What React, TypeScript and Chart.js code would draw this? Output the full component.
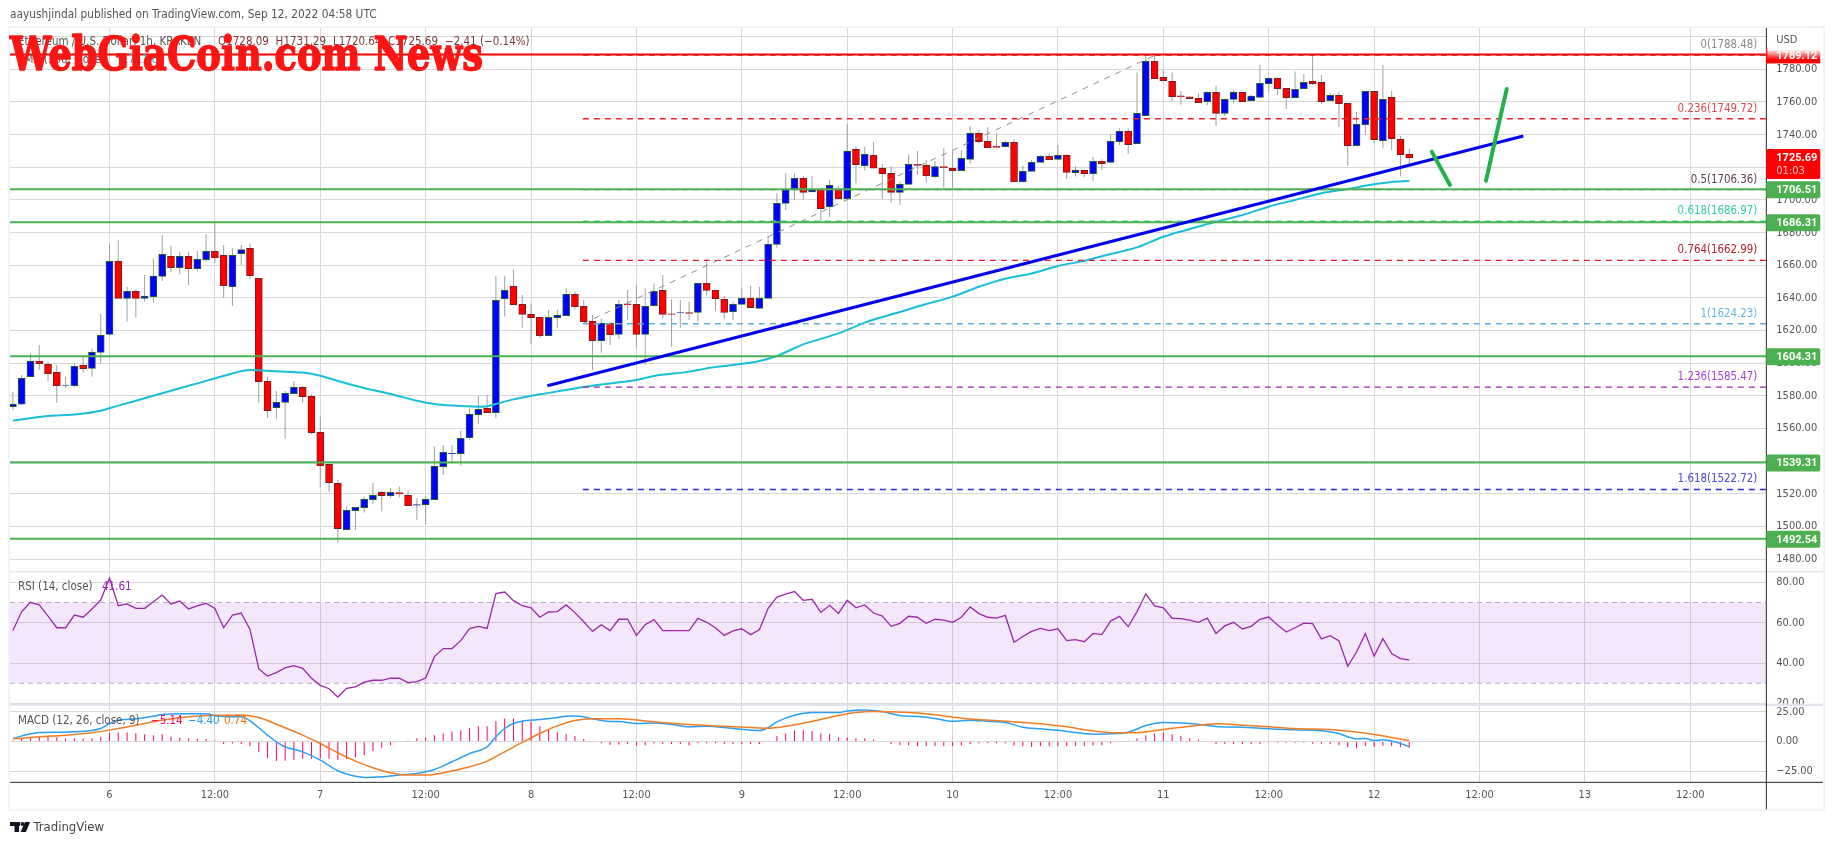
import React, { useEffect, useRef } from "react";
import { Chart, registerables } from "chart.js";

Chart.register(...registerables);

const FONT = '"DejaVu Sans Condensed", "DejaVu Sans", sans-serif';

const firstHour = -11; // Sep 5, 13:00, counted in hours from Sep 6, 00:00

const opens = [
  1573.4,1574.9,1591.8,1601.4,1599.4,1594.5,1586.5,1586.3,1598.8,1596.9,
  1606.7,1617.7,1662.4,1639.8,1644,1639.8,1640.8,1653.2,1665.5,1658.5,
  1665.5,1657.9,1663.4,1668.5,1666.1,1646.9,1667.1,1670.4,1652,1589,
  1572.8,1576.1,1581.4,1585.3,1579.8,1557.7,1538.1,1526.5,1498.1,1509.8,
  1511.6,1516.5,1521,1519,1520.8,1519.2,1513.2,1513.4,1516.5,1536.7,
  1544.7,1544.7,1554.5,1568.6,1572.4,1569.8,1639.6,1647.3,1636.1,1630,
  1628.1,1616.9,1628,1629.2,1642.2,1634.9,1625.7,1613.9,1624.5,1617.7,
  1636.4,1636.1,1617.7,1635.3,1644.7,1630.3,1630.8,1631,1631.2,1649,
  1644.7,1639.2,1631.6,1636.1,1639.8,1633.6,1639.8,1672.8,1697.9,1706.5,
  1713.2,1705,1706.7,1695.9,1706.7,1700.8,1731,1721,1727.3,1719.4,
  1716.3,1704.7,1709.6,1721.9,1721.2,1714.3,1720.4,1719.4,1717.9,1724.9,
  1740.8,1735.9,1732.8,1732.6,1735.3,1711.2,1717.5,1723,1726.7,1724.9,
  1727.3,1716.7,1718.1,1716.1,1723.7,1723,1735.7,1742,1734.5,1751.6,
  1784.9,1775.1,1772.6,1763.8,1763.2,1762.2,1760.2,1765.9,1753,1761.6,
  1765.9,1760.8,1762.8,1771.2,1774.5,1768.3,1762.6,1768.1,1772.8,1772,
  1760.8,1764.1,1759.2,1733.3,1746.1,1766.5,1736.3,1762.8,1737.1,1728.09,
];
const closes = [
  1575,1590.8,1601.2,1599.8,1593.7,1586.3,1586.6,1598.1,1596.7,1606.7,
  1617.1,1662.4,1639.8,1644,1639.8,1641.2,1653.4,1666.7,1658.5,1665.5,
  1657.9,1663.6,1668.5,1664.6,1647.5,1666.1,1669.7,1653.6,1588.8,1571,
  1576.1,1581.6,1585.3,1579.6,1557.5,1537.3,1526.9,1498.8,1510,1511.8,
  1516.7,1519.2,1519,1521,1520,1512.8,1513.5,1516.7,1536.9,1545.5,
  1544.9,1554.1,1568.8,1571.8,1569.8,1638.6,1644.7,1635.9,1630,1628,
  1616.9,1628.1,1629.4,1642.2,1634.7,1625.5,1613.9,1624.5,1617.5,1636.1,
  1635.8,1617.7,1634.9,1644,1630,1630,1631,1630.6,1649,1644.7,
  1639.6,1631.2,1636.1,1639.8,1634,1639.8,1672.8,1697.9,1706.5,1713.2,
  1704.7,1706.7,1694.7,1709,1700.8,1730,1721.6,1727.9,1719.4,1716.1,
  1704.7,1709.6,1721.8,1721.2,1714.9,1720.4,1719.8,1717.9,1725.5,1740.8,
  1735.7,1732,1732.2,1735.3,1711.2,1717.5,1723,1726.7,1724.7,1727.3,
  1716.9,1718.3,1716.1,1723.7,1722.2,1735.9,1742,1733.9,1753,1784.9,
  1774.3,1773,1763.2,1763.2,1762,1759.6,1765.9,1753,1761.6,1765.9,
  1760.2,1763.6,1771.4,1774.5,1768.1,1762.6,1767.7,1772,1771.2,1760.2,
  1764.1,1759,1733.3,1746.3,1766.5,1736.9,1761.6,1737.5,1727.7,1725.69,
];
const highs = [
  1582.6,1592.8,1606.1,1611.2,1601,1599,1591.8,1600,1604,1609,
  1630.2,1673.4,1675.5,1646.9,1645.3,1654,1664.2,1678.5,1671.8,1668.3,
  1668.3,1668.9,1679.1,1686,1672.4,1670.4,1672.4,1673.4,1652,1591.8,
  1583,1583,1589.2,1586.1,1581,1567.3,1538.1,1528.6,1512.6,1512,
  1518.3,1526.9,1522,1523.4,1524.5,1522,1517.3,1518.7,1549,1550,
  1550,1558.8,1572.4,1580,1580.6,1653.4,1653.4,1657.5,1641.8,1636.7,
  1628.1,1632.6,1632.6,1645.9,1643.9,1638.8,1629.6,1627.5,1625.5,1638.8,
  1644.9,1648,1645.9,1649,1654,1639.2,1638.8,1637.7,1649,1663.6,
  1644.7,1641,1637.7,1646.3,1647.3,1646.9,1678,1704,1716.3,1716,
  1714.7,1714.7,1706.7,1712.2,1708.5,1746.5,1732.6,1732.6,1735.3,1722,
  1721,1711.2,1727.9,1730,1724.5,1723.9,1731.6,1730,1730.6,1745.3,
  1742.8,1744.5,1740.8,1736.3,1737.1,1721,1724.5,1727.5,1728.5,1733.6,
  1728,1720.8,1718.1,1726.5,1724.9,1740.4,1743.9,1743.9,1778,1788.5,
  1788.1,1779.6,1778,1766.7,1763.5,1765.3,1766.7,1769.8,1762,1767.3,
  1766.2,1764.3,1782.6,1775,1775,1768.5,1778.6,1777.1,1788.5,1776.5,
  1765.3,1766.3,1759.2,1753.9,1766.5,1766.5,1782.6,1766.7,1739.2,1731.29,
];
const lows = [
  1571.4,1574.5,1591.8,1595.9,1588.8,1575.9,1584.7,1585.3,1594.3,1591.8,
  1600,1617,1639.8,1625.5,1628,1637.7,1637.1,1650.4,1656,1654.6,
  1647.9,1656.7,1662.2,1661.2,1640,1635.3,1660.2,1651.4,1575.9,1566.7,
  1566,1553.9,1581.4,1575.9,1556.7,1523.9,1521.4,1490.2,1498.1,1497.9,
  1508.6,1513.9,1509.2,1517.9,1517.9,1512.8,1504.1,1501,1516.5,1531.6,
  1539.8,1537.3,1553,1562.8,1569.8,1566.7,1628.6,1635.9,1621.8,1611.6,
  1615.7,1616.9,1621.8,1629.2,1633,1625,1595.9,1606.5,1611.2,1614.7,
  1626.5,1609.6,1599,1635,1627.5,1610.2,1621.8,1626.5,1625.5,1641.4,
  1632.2,1627.3,1626.5,1636.1,1634,1633.6,1639.8,1670.8,1693.9,1700,
  1700,1705,1687.3,1689.8,1700.8,1700.8,1710.2,1718,1719.4,1700.6,
  1698.3,1696.9,1709.6,1715.3,1710.6,1713.2,1707.7,1707.7,1717.9,1722.4,
  1734.7,1732,1732,1732.4,1711.2,1710.6,1717.5,1723,1724.5,1724.5,
  1712.8,1714.3,1713.9,1711.8,1718.5,1723,1733.7,1728.1,1734.5,1751.6,
  1773.9,1773,1760.6,1758.3,1762,1759.6,1758,1745.3,1751.4,1759.2,
  1760.2,1760.8,1762.8,1766.3,1764.3,1755.7,1762.6,1768.1,1770.4,1758.8,
  1760.8,1744.9,1721,1733.3,1740.2,1735.1,1732,1730.6,1714.3,1720.64,
];

const rsiValues = [
  56.1,65.5,70.1,68.8,63.3,57.5,57.5,63.8,62.7,66.8,
  71.2,82.0,68.4,69.3,67.1,67.1,70.4,73.7,69.3,70.7,
  66.8,68.3,69.6,67.1,57.5,63.8,64.8,56.7,37.1,33.6,
  35.3,37.6,38.7,37.4,32.5,29.0,27.3,23.2,27.5,28.2,
  30.6,31.5,31.5,32.5,32.5,30.3,30.8,32.6,43.2,47.2,
  47.2,51.1,57.1,58.2,57.2,74.4,75.2,70.9,68.4,67.4,
  62.7,65.3,65.5,68.8,65.0,60.5,55.7,59.0,56.1,61.7,
  61.7,53.7,59.0,61.5,56.1,56.1,56.1,56.1,62.2,60.2,
  57.5,53.7,55.9,57.0,54.1,56.5,67.1,72.7,74.2,75.4,
  71.1,71.6,65.1,68.6,64.6,71.1,67.4,68.8,64.8,63.3,
  58.2,59.7,63.2,62.7,59.7,61.7,61.3,60.2,62.7,67.8,
  64.5,62.7,62.3,63.6,50.3,53.2,55.7,57.2,56.1,57.0,
  51.1,51.6,50.6,54.7,54.1,60.8,63.1,58.0,65.5,74.2,
  68.3,67.4,62.2,62.0,61.3,60.2,62.3,54.7,58.4,60.2,
  56.9,58.2,61.7,62.8,58.9,55.4,57.5,59.8,59.5,52.0,
  53.6,51.0,38.4,45.5,54.6,43.4,52.1,44.7,42.2,41.61,
];

const histValues = [
  0.8,2.2,3.1,4.2,3.9,3.6,2.5,2.8,2.5,2.8,
  3.9,7.3,7.8,7.8,7.0,6.1,5.3,6.1,4.2,3.4,
  2.8,2.2,2.0,0.8,-2.2,-1.7,-2.2,-3.9,-8.9,-14.0,
  -16.5,-16.2,-15.4,-14.8,-14.5,-14.2,-14.5,-15.6,-14.8,-13.1,
  -11.5,-8.1,-5.3,-3.1,-0.3,0.8,2.8,3.4,5.3,7.0,
  8.4,9.5,11.2,12.8,12.8,17.0,19.3,19.3,17.9,16.8,
  12.8,10.1,7.8,6.1,4.5,2.0,0.1,-1.4,-2.8,-2.5,
  -2.2,-3.6,-3.1,-1.7,-2.2,-2.2,-2.2,-3.1,-1.4,-1.4,
  -1.4,-2.2,-2.2,-2.2,-2.2,-2.2,0.8,4.5,6.7,9.2,
  9.5,8.7,7.0,6.1,3.6,3.6,2.8,2.8,1.7,0.1,
  -2.2,-3.1,-3.1,-3.9,-3.9,-3.9,-3.9,-3.9,-3.4,-2.2,
  -1.4,-1.4,-1.4,-1.4,-3.4,-3.9,-4.7,-3.9,-3.9,-3.9,
  -3.9,-3.9,-3.9,-3.4,-3.1,-1.4,-0.3,0.8,2.8,5.3,
  7.0,7.5,6.1,4.5,2.8,1.7,0.1,-2.2,-2.2,-2.2,
  -2.2,-2.2,-2.2,-0.8,-1.1,-1.1,-1.1,-1.1,-2.0,-2.0,
  -2.2,-3.1,-4.7,-5.6,-3.9,-4.5,-3.6,-3.9,-4.7,-5.14,
];

// Smoothed lines read at anchor candles: [candle number, value]
const emaPoints = [
  [0,1564.9],[4,1567.7],[7,1568.6],[10,1571],[12,1574.1],[15,1578.6],[18,1583.2],[21,1587.7],[24,1592.2],[27,1595.9],
  [28,1595.7],[30,1595.1],[33,1594.3],[35,1592.4],[37,1589.2],[40,1584.9],[43,1581.2],[46,1577.1],[48,1575.1],[50,1574.1],
  [53,1573.4],[54,1573.7],[55,1575.1],[57,1577.9],[60,1581],[63,1583.7],[65,1585.5],[68,1587.7],[71,1589.8],[73,1592.2],
  [77,1594.9],[79,1596.9],[82,1599],[85,1601.4],[87,1604.5],[90,1611.6],[94,1618.3],[97,1624.9],[100.5,1630.6],[104,1636.3],
  [107,1640.8],[110,1646.9],[113,1651.8],[116,1655],[119,1659.6],[122,1662.8],[125,1666.9],[128,1671],[131,1677.5],[134,1682.2],
  [137,1686.7],[140,1690.8],[143,1695.9],[146,1700],[149,1704.1],[152,1706.7],[155,1709.6],[157,1711],[159,1711.6],
];
const macdPoints = [
  [0,2.5],[1,4.7],[3,7.5],[5,7.8],[7,8.1],[10,10.9],[11,15.1],[12,17.9],[14,19],[16,21.2],[17,22.6],[19,23.2],[22,23.2],
  [23,21.8],[24,20.9],[26,20.7],[27,17.3],[28,11.5],[29,5.3],[30,-0.3],[31,-4.5],[33,-8.7],[35,-15.6],[37,-24.6],[38,-27.4],
  [39,-29.3],[40,-30.2],[42,-29.6],[44,-28.2],[46,-26.8],[47,-25.4],[48,-23.5],[50,-17],[51,-13.7],[52,-10.1],[54,-4.5],
  [55,3.9],[56,10.9],[57,15.1],[58,17],[60,18.4],[62,20.1],[63,21.2],[64,21.5],[65,20.7],[66,19],[68,16.8],[69,16.8],
  [71,15.1],[73,15.6],[75,14.2],[77,12.3],[79,12.8],[82,10.9],[85,9.2],[86,11.7],[87,16.5],[89,22.1],[91,24.3],[94,24.3],
  [95,25.7],[97,26.5],[99,25.1],[101,21.8],[103,20.9],[105,19.3],[107,17],[109,17.9],[111,17],[113,15.9],[115,12],[117,10.6],
  [119,9.5],[121,7.5],[123,6.1],[125,6.4],[127,7.8],[129,13.4],[131,15.9],[133,15.6],[135,14.5],[137,12.6],[140,12],[142,11.2],
  [146,9.8],[148,9.5],[151,6.7],[152,3.9],[153,2.2],[154,2.5],[155,0.8],[156,1.4],[158,-1.7],[159,-4.4],
];
const signalPoints = [
  [0,2.2],[3,3.9],[6,5.3],[9,7.3],[12,10.9],[15,15.1],[17,17.9],[20,20.7],[23,22.1],[26,22.3],[28,20.1],[30,14.5],[33,5.3],
  [35,-1.7],[37,-9.5],[39,-16.5],[41,-22.1],[43,-26.3],[45,-28.2],[47,-28.2],[49,-26.3],[52,-21.2],[54,-16.5],[56,-8.7],
  [58,-0.8],[60,6.7],[62,13.1],[64,17.6],[66,19],[69,19],[73,16.5],[77,14.2],[81,12.8],[84,11.7],[86,11.2],[88,12.8],[91,16.8],
  [94,21.8],[96,24.3],[98,25.1],[101,24.6],[103,24],[106,21.5],[108,19.6],[113,17],[117,14.8],[120,12.3],[123,8.9],[126,7.3],
  [128,7.3],[131,10.1],[134,12.8],[137,14.8],[140,13.7],[143,12.3],[146,10.9],[151,9.5],[155,5.9],[159,0.74],
];

const priceTicks = [1800,1780,1760,1740,1720,1700,1680,1660,1640,1620,1600,1580,1560,1540,1520,1500,1480];
const rsiTicks = [80,60,40,20];
const macdTicks = [25,0,-25];
const timeTickHours = [0,12,24,36,48,60,72,84,96,108,120,132,144,156,168,180];
const timeTickLabels = ["6","12:00","7","12:00","8","12:00","9","12:00","10","12:00","11","12:00","12","12:00","13","12:00"];

const supportLevels = [1706.51,1686.31,1604.31,1539.31,1492.54];
const resistanceLevel = 1789.12;
const lastPrice = 1725.69;
const countdown = "01:03";

const fibStartHour = 53.9;
const fibRatios = ["0","0.236","0.5","0.618","0.764","1","1.236","1.618"];
const fibPrices = [1788.48,1749.72,1706.36,1686.97,1662.99,1624.23,1585.47,1522.72];
const fibLineColors = ["#808080","#f02028","#5d7a5d","#2ed3a0","#ee1c25","#5fb0e0","#9c27b0","#2a2ad0"];
const fibTextColors = ["#8a8a8a","#dc4a4f","#5c3a52","#30d09c","#b8202e","#66b8e4","#a63fdc","#4848d8"];

const fibDiagonal = [[53.9,1624.23],[119,1788.48]];
const trendLine = [[49.86,1586.3],[161,1739.2]];
const projectionDown = [[150.56,1729.6],[152.64,1709.2]];
const projectionUp = [[156.74,1711.8],[159.1,1768]];

const rsiBandTop = 70;
const rsiBandBottom = 30;

const toXY = (rows: number[][], byCandle: boolean) =>
  rows.map(([a, b]) => ({ x: byCandle ? firstHour + a : a, y: b }));

const X_MIN = -11.33;
const X_MAX = 188.66;

const fixedWidth = (s: any) => { s.width = 57; };

const overlay = {
  id: "overlay",
  beforeDraw(chart: any) {
    const c = chart.ctx;
    c.save();
    c.fillStyle = "#f0f3fa";
    c.fillRect(8, 26, 1817, 785);
    c.fillStyle = "#ffffff";
    c.fillRect(10, 28, 1813.3, 781.3);
    c.restore();
  },
  beforeDatasetsDraw(chart: any) {
    const c = chart.ctx;
    const y = chart.scales.rsi;
    const { left, right } = chart.chartArea;
    const top = y.getPixelForValue(rsiBandTop);
    const bottom = y.getPixelForValue(rsiBandBottom);
    c.save();
    c.fillStyle = "rgba(156,39,230,0.11)";
    c.fillRect(left, top, right - left, bottom - top);
    c.restore();
  },
  afterDraw(chart: any) {
    const c = chart.ctx;
    const y = chart.scales.y;
    const rsi = chart.scales.rsi;
    const macd = chart.scales.macd;
    const right = chart.chartArea.right;
    const labelX = right + 10;
    c.save();
    c.textBaseline = "middle";

    // pane separators and axis lines
    c.fillStyle = "#ffffff";
    c.fillRect(right + 1, rsi.bottom - 0.5, 56, 3);
    c.fillStyle = "#e0e3eb";
    c.fillRect(10, y.bottom - 0.5, 1813, 1.2);
    c.fillRect(10, rsi.bottom - 1, 1813, 2.2);
    c.fillStyle = "#4a4a4a";
    c.fillRect(10, macd.bottom - 0.5, 1813, 1.2);
    c.fillRect(right - 0.5, 28, 1.2, 781.3);

    // header
    c.font = `11.8px ${FONT}`;
    c.textAlign = "left";
    c.fillStyle = "#555555";
    c.fillText("aayushjindal published on TradingView.com, Sep 12, 2022 04:58 UTC", 10, 15);
    c.font = `11px ${FONT}`;
    c.fillText("USD", labelX, 40);

    // legends
    c.font = `11.5px ${FONT}`;
    c.fillText("Ethereum / U.S. Dollar, 1h, KRAKEN", 18, 41.7);
    c.fillText("EMA (100, close)", 18, 60);
    c.fillStyle = "#00bcd4";
    c.fillText("1711.62", 122, 60);
    c.fillStyle = "#7a3a3a";
    c.fillText("O1728.09", 218, 41.7);
    c.fillText("H1731.29", 275.6, 41.7);
    c.fillText("L1720.64", 333, 41.7);
    c.fillText("C1725.69", 388, 41.7);
    c.fillText("\u22122.41 (\u22120.14%)", 445, 41.7);
    c.fillStyle = "#555555";
    c.fillText("RSI (14, close)", 18, rsi.top + 15);
    c.fillText("MACD (12, 26, close, 9)", 18, macd.top + 16);
    c.fillStyle = "#9c27b0";
    c.fillText(rsiValues[rsiValues.length - 1].toFixed(2), 102, rsi.top + 15);
    c.fillStyle = "#ff0066";
    c.fillText(histValues[histValues.length - 1].toFixed(2).replace("-", "\u2212"), 151, macd.top + 16);
    c.fillStyle = "#2196f3";
    c.fillText("\u22124.40", 188, macd.top + 16);
    c.fillStyle = "#ff6d00";
    c.fillText("0.74", 224, macd.top + 16);

    // fib labels
    c.textAlign = "right";
    c.font = `11.4px ${FONT}`;
    fibPrices.forEach((p, i) => {
      c.fillStyle = fibTextColors[i];
      c.fillText(`${fibRatios[i]}(${p.toFixed(2)})`, right - 9, y.getPixelForValue(p) - 10);
    });

    // green price badges
    c.textAlign = "left";
    c.font = "bold 11px Roboto";
    supportLevels.forEach((p) => {
      const py = y.getPixelForValue(p);
      c.fillStyle = "#4caf50";
      c.beginPath();
      c.roundRect(right, py - 8, 54, 17, 2);
      c.fill();
      c.fillStyle = "#ffffff";
      c.fillText(p.toFixed(2), labelX, py + 1);
    });

    // resistance badge fading to white at the top
    const ry = y.getPixelForValue(resistanceLevel);
    const g = c.createLinearGradient(0, ry - 5, 0, ry + 5);
    g.addColorStop(0, "#ffffff");
    g.addColorStop(1, "#ff0000");
    c.fillStyle = g;
    c.fillRect(right, ry - 5, 54, 14);
    c.fillStyle = "#ff0000";
    c.fillRect(right, ry - 7, 1, 16);
    c.fillStyle = "#ffffff";
    c.fillText(resistanceLevel.toFixed(2), labelX, ry + 1.5);

    // last price badge
    const ly = y.getPixelForValue(lastPrice);
    c.fillStyle = "#ff0000";
    c.beginPath();
    c.roundRect(right, ly - 9, 54, 30, 2);
    c.fill();
    c.fillStyle = "#ffffff";
    c.fillText(lastPrice.toFixed(2), labelX, ly);
    c.font = `11px ${FONT}`;
    c.fillStyle = "#ffc4c4";
    c.fillText(countdown, labelX, ly + 13);

    // watermark
    c.textBaseline = "alphabetic";
    c.fillStyle = "#ff1414";
    c.strokeStyle = "#ff1414";
    c.lineWidth = 1.6;
    c.lineJoin = "round";
    c.font = 'bold 46px "DejaVu Serif"';
    c.fillText("WebGiaCoin.com News", 10, 70, 473);
    c.strokeText("WebGiaCoin.com News", 10, 70, 473);

    // footer logo and wordmark
    c.fillStyle = "#131722";
    c.fillRect(10, 822, 10, 4);
    c.fillRect(14.5, 826, 4.5, 6);
    c.beginPath();
    c.arc(22.5, 824, 2, 0, Math.PI * 2);
    c.fill();
    c.beginPath();
    c.moveTo(25, 822);
    c.lineTo(30, 822);
    c.lineTo(26, 832);
    c.lineTo(20.5, 832);
    c.fill();
    c.fillStyle = "#444444";
    c.font = `13px ${FONT}`;
    c.textBaseline = "middle";
    c.fillText("TradingView", 33.5, 827.7);
    c.restore();
  },
};

const level = (value: number, fromHour: number, color: string, width: number, dash: number[], order: number, axis = "y") => ({
  type: "line",
  yAxisID: axis,
  data: [{ x: fromHour, y: value }, { x: X_MAX, y: value }],
  borderColor: color,
  borderWidth: width,
  borderDash: dash,
  pointRadius: 0,
  order,
});

export default function App() {
  const ref = useRef<HTMLCanvasElement>(null);
  useEffect(() => {
    const hours = opens.map((_, i) => firstHour + i);
    const tick = { color: "#555555", font: { family: FONT, size: 11 }, padding: 10, autoSkip: false, maxRotation: 0 };
    const grid = { color: "#d8d8d8", lineWidth: 1, drawTicks: false, tickLength: 0 };
    const chart = new Chart(ref.current as HTMLCanvasElement, {
      data: {
        datasets: [
          {
            type: "bar",
            yAxisID: "y",
            data: hours.map((x, i) => ({ x, y: [lows[i], highs[i]] })),
            backgroundColor: "#a0a0a0",
            barThickness: 1,
            inflateAmount: 0,
            grouped: false,
            order: 20,
          },
          {
            type: "bar",
            yAxisID: "y",
            data: hours.map((x, i) => ({ x, y: [opens[i], closes[i]] })),
            backgroundColor: opens.map((o, i) => (closes[i] >= o ? "#0000ff" : "#ff0000")),
            borderColor: opens.map((o, i) => (closes[i] >= o ? "#1f5c3a" : "#7a1c1c")),
            borderWidth: 1,
            borderSkipped: false,
            barThickness: 7,
            grouped: false,
            order: 19,
          },
          {
            type: "line",
            yAxisID: "y",
            data: toXY(emaPoints, true),
            borderColor: "#17bfd8",
            borderWidth: 2,
            pointRadius: 0,
            cubicInterpolationMode: "monotone",
            order: 18,
          },
          ...fibPrices.map((p, i) => level(p, fibStartHour, fibLineColors[i], 1.3, [6, 5], 17)),
          {
            type: "line",
            yAxisID: "y",
            data: toXY(fibDiagonal, false),
            borderColor: "#8e8e8e",
            borderWidth: 1,
            borderDash: [6, 6],
            pointRadius: 0,
            order: 16,
          },
          ...supportLevels.map((p) => level(p, X_MIN, "#4caf50", 2, [], 5)),
          level(resistanceLevel, X_MIN, "#ff0000", 2, [], 4),
          {
            type: "line",
            yAxisID: "y",
            data: toXY(trendLine, false),
            borderColor: "#0000ee",
            borderWidth: 3,
            pointRadius: 0,
            order: 3,
          },
          ...[projectionDown, projectionUp].map((rows) => ({
            type: "line",
            yAxisID: "y",
            data: toXY(rows, false),
            borderColor: "#22b14c",
            borderWidth: 4,
            borderCapStyle: "round",
            pointRadius: 0,
            order: 2,
          })),
          level(rsiBandTop, X_MIN, "#b5b0b8", 1, [5, 4], 6, "rsi"),
          level(rsiBandBottom, X_MIN, "#b5b0b8", 1, [5, 4], 6, "rsi"),
          {
            type: "line",
            yAxisID: "rsi",
            data: hours.map((x, i) => ({ x, y: rsiValues[i] })),
            borderColor: "#9c27a8",
            borderWidth: 1.3,
            pointRadius: 0,
            order: 5,
          },
          {
            type: "bar",
            yAxisID: "macd",
            data: hours.map((x, i) => ({ x, y: histValues[i] })),
            backgroundColor: "#ff0066",
            barThickness: 1,
            inflateAmount: 0,
            grouped: false,
            order: 7,
          },
          {
            type: "line",
            yAxisID: "macd",
            data: toXY(macdPoints, true),
            borderColor: "#2aa0f5",
            borderWidth: 1.5,
            pointRadius: 0,
            cubicInterpolationMode: "monotone",
            order: 6,
          },
          {
            type: "line",
            yAxisID: "macd",
            data: toXY(signalPoints, true),
            borderColor: "#f57c22",
            borderWidth: 1.5,
            pointRadius: 0,
            cubicInterpolationMode: "monotone",
            order: 5,
          },
        ] as any,
      },
      options: {
        animation: false,
        responsive: false,
        events: [],
        layout: { padding: { left: 10, top: 28, right: 10.7, bottom: 35.7 } },
        plugins: { legend: { display: false }, tooltip: { enabled: false } },
        scales: {
          x: {
            type: "linear",
            offset: false,
            min: X_MIN,
            max: X_MAX,
            grid: { ...grid, offset: false },
            border: { display: false },
            afterBuildTicks: (s: any) => { s.ticks = timeTickHours.map((value) => ({ value })); },
            afterFit: (s: any) => { s.height = 27; },
            ticks: { ...tick, padding: 6, callback: (v: any) => timeTickLabels[timeTickHours.indexOf(v)] ?? "" },
          },
          y: {
            type: "linear",
            position: "right",
            stack: "panes",
            stackWeight: 543.7,
            min: 1472.4,
            max: 1805.3,
            grid,
            border: { display: false },
            afterBuildTicks: (s: any) => { s.ticks = priceTicks.map((value) => ({ value })); },
            afterFit: fixedWidth,
            ticks: { ...tick, callback: (v: any) => (v === 1800 ? "" : Number(v).toFixed(2)) },
          },
          rsi: {
            type: "linear",
            position: "right",
            stack: "panes",
            stackWeight: 133,
            min: 19.4,
            max: 85.25,
            grid,
            border: { display: false },
            afterBuildTicks: (s: any) => { s.ticks = rsiTicks.map((value) => ({ value })); },
            afterFit: fixedWidth,
            ticks: { ...tick, callback: (v: any) => Number(v).toFixed(2) },
          },
          macd: {
            type: "linear",
            position: "right",
            stack: "panes",
            stackWeight: 77.6,
            min: -34.3,
            max: 30.9,
            grid,
            border: { display: false },
            afterBuildTicks: (s: any) => { s.ticks = macdTicks.map((value) => ({ value })); },
            afterFit: fixedWidth,
            ticks: { ...tick, callback: (v: any) => Number(v).toFixed(2).replace("-", "\u2212") },
          },
        },
      } as any,
      plugins: [overlay],
    } as any);
    return () => chart.destroy();
  }, []);
  return (
    <canvas
      ref={ref}
      width={1834}
      height={845}
      style={{ position: "fixed", left: 0, top: 0, width: 1834, height: 845, display: "block" }}
    />
  );
}
